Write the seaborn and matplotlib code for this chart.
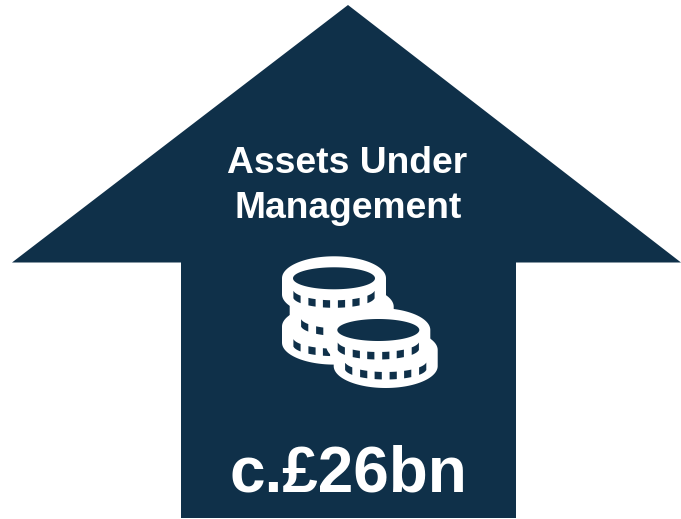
import numpy as np
import matplotlib
matplotlib.use("Agg")
import matplotlib.pyplot as plt
import seaborn as sns

title_lines = ["Assets Under", "Management"]
value_label = "c.£26bn"
arrow_x = [348, 681, 516, 516, 181, 181, 12]
arrow_y = [5, 262.5, 262.5, 518, 518, 262.5, 262.5]
coin_x = [334, 341.7, 334, 385.7, 378.3]
coin_y = [326.6, 306.7, 278.3, 350, 330]
coin_hole = [False, False, True, False, True]
tick_offsets = [-37, -22, -7.5, 7.5, 22, 37]

NAVY = "#0F3049"
WHITE = "#FFFFFF"

sns.set_theme(style="white")
plt.rcParams["font.family"] = ["Liberation Sans", "DejaVu Sans"]

fig, ax = plt.subplots(figsize=(6.81, 5.19), dpi=100)
ax.set_position([0, 0, 1, 1])
ax.set_xlim(0, 681)
ax.set_ylim(519, 0)
ax.axis("off")
sns.despine(ax=ax, left=True, bottom=True)

ax.fill(arrow_x, arrow_y, color=NAVY, lw=0, zorder=1)

RX, RY, H = 52, 22, 16
HOLE_RX, HOLE_RY = 41, 11


def coin(cx, cy, hole, z):
    t = np.linspace(0, np.pi, 80)
    top_x = cx - RX * np.cos(t)
    top_y = cy - RY * np.sin(t)
    bot_x = cx + RX * np.cos(t)
    bot_y = cy + H + RY * np.sin(t)
    ax.fill(np.r_[top_x, bot_x], np.r_[top_y, bot_y], color=WHITE, lw=0, zorder=z)
    for off in tick_offsets:
        xs = np.linspace(off - 3.6, off + 3.6, 8)
        arc = cy + 11 + HOLE_RY * np.sqrt(np.clip(1 - (xs / HOLE_RX) ** 2, 0, 1))
        ax.fill(np.r_[cx + xs, cx + xs[::-1]], np.r_[arc, arc[::-1] + 7.5],
                color=NAVY, lw=0, zorder=z + 0.1)
    if hole:
        a = np.linspace(0, 2 * np.pi, 100)
        ax.fill(cx + HOLE_RX * np.cos(a), cy + HOLE_RY * np.sin(a),
                color=NAVY, lw=0, zorder=z + 0.2)


for i, (x, y, h) in enumerate(zip(coin_x, coin_y, coin_hole)):
    coin(x, y, h, 2 + i)

ax.text(347.5, 173, title_lines[0], color=WHITE, fontsize=26.8, fontweight="bold",
        ha="center", va="baseline", zorder=10)
ax.text(348, 217.5, title_lines[1], color=WHITE, fontsize=26.8, fontweight="bold",
        ha="center", va="baseline", zorder=10)
ax.text(348, 492, value_label, color=WHITE, fontsize=46, fontweight="bold",
        ha="center", va="baseline", zorder=10)

fig.savefig("out.png", dpi=100, facecolor="white")
